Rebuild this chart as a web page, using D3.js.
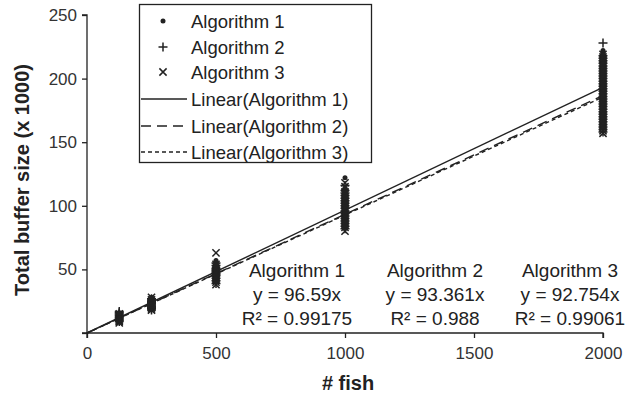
<!DOCTYPE html>
<html><head><meta charset="utf-8">
<script src="https://cdn.jsdelivr.net/npm/d3@7"></script>
<style>
html,body{margin:0;padding:0;background:#fff;}
svg{display:block;font-family:"Liberation Sans",Arial,sans-serif;}
</style></head>
<body>
<svg id="chart" width="637" height="395"></svg>
<script>
// ---- data ----
const fishCounts = [125, 250, 500, 1000, 2000];
const xTicks = [0, 500, 1000, 1500, 2000];
const yTicks = [0, 50, 100, 150, 200, 250];
const yTickLabels = ["", "50", "100", "150", "200", "250"];
const seriesNames = ["Algorithm 1", "Algorithm 2", "Algorithm 3"];
// observed buffer sizes (x1000) per fish count
const alg1Values = [
  [9,9.5,10,10.5,11,11.5,12,12.5,13,13.5,14,14.5,15,15.5,16],
  [19,19.5,20,20.5,21,21.5,22,22.5,23,23.5,24,24.5,25,25.5,26,26.5,27,27.5,28],
  [40,41,42,43,44,45,46,47,48,49,50,51,52,53,54,55,57],
  [84,85,86,87,88,89,90,91,92,93,94,95,96,97,98,99,100,101,102,103,104,105,106,107,108,109,110,111,112,114,122],
  [161,162,163,164,165,166,167,168,169,170,171,172,173,174,175,176,177,178,179,180,181,182,183,184,185,186,187,188,189,190,
   191,192,193,194,195,196,197,198,199,200,201,202,203,204,205,206,207,208,209,210,211,212,213,214,215,216,217,218,219,220,222]
];
const alg2Values = [
  [9,10,11,12,13,14,15,16,17],
  [18,19,20,21,22,23,24,25,26,27],
  [39,41,43,45,46,47,48,49,50,51,53,55],
  [82,84,86,88,90,92,94,96,98,100,102,104,106,108,110,112,116],
  [158,160,162,164,166,168,170,172,174,176,178,180,182,184,186,188,190,192,194,196,198,200,202,204,206,208,210,212,214,216,218,228]
];
const alg3Values = [
  [8,9,10,11,12,13,14,15],
  [18,19,20,21,22,23,24,25,26,28],
  [38,40,42,44,45,46,47,48,49,50,52,54,63],
  [80,83,85,87,89,91,93,95,97,99,101,103,105,107,109,111,115,118],
  [157,159,161,163,165,167,169,171,173,175,177,179,181,183,185,187,189,191,193,195,197,199,201,203,205,207,209,211,213,215,217,219]
];
const slopes = [96.59, 93.361, 92.754];
const r2Values = ["0.99175", "0.988", "0.99061"];
const legendLabels = ["Algorithm 1","Algorithm 2","Algorithm 3","Linear(Algorithm 1)","Linear(Algorithm 2)","Linear(Algorithm 3)"];

// ---- drawing ----
const svg = d3.select("#chart");
const ink = "#222";
const x = d3.scaleLinear().domain([0, 2000]).range([87, 603]);
const y = d3.scaleLinear().domain([0, 250]).range([333, 15]);

// axes
const xAxis = d3.axisBottom(x).tickValues(xTicks).tickSize(5).tickPadding(9).tickFormat(d3.format("d"));
const gx = svg.append("g").attr("transform", `translate(0,${y(0)})`).call(xAxis);
const yAxis = d3.axisLeft(y).tickValues(yTicks).tickSize(5).tickPadding(5).tickFormat((d,i)=>yTickLabels[i]);
const gy = svg.append("g").attr("transform", `translate(${x(0)},0)`).call(yAxis);
[gx, gy].forEach(g => {
  g.select(".domain").attr("stroke", ink).attr("stroke-width", 1.3);
  g.selectAll(".tick line").attr("stroke", ink).attr("stroke-width", 1.3);
  g.selectAll(".tick text").attr("fill", "#333").style("font-size", "17px").style("font-family", "'Liberation Sans', Arial, sans-serif");
});
gy.select(".domain").attr("d", `M-5,${y(250)}H0V${y(0)}H-5`);
gx.select(".domain").attr("d", `M${x(0)},5V0H${x(2000)}V5`);

// trend lines
const dashes = [null, "10,6", "4,3"];
const lineGen = d3.line().x(d => x(d[0])).y(d => y(d[1]));
slopes.forEach((s, i) => {
  svg.append("path")
    .attr("d", lineGen([[0, 0], [2000, s * 2000 / 1000]]))
    .attr("fill", "none").attr("stroke", ink).attr("stroke-width", 1.4)
    .attr("stroke-dasharray", dashes[i]);
});

// markers
function drawMarker(g, kind, cx, cy) {
  if (kind === 0) {
    g.append("circle").attr("cx", cx).attr("cy", cy).attr("r", 2.5).attr("fill", ink);
  } else if (kind === 1) {
    g.append("path").attr("d", `M${cx-4.5},${cy}H${cx+4.5}M${cx},${cy-4.5}V${cy+4.5}`)
      .attr("stroke", ink).attr("stroke-width", 1.5).attr("fill", "none");
  } else {
    g.append("path").attr("d", `M${cx-3.6},${cy-3.6}L${cx+3.6},${cy+3.6}M${cx-3.6},${cy+3.6}L${cx+3.6},${cy-3.6}`)
      .attr("stroke", ink).attr("stroke-width", 1.5).attr("fill", "none");
  }
}
const allSeries = [alg1Values, alg2Values, alg3Values];
const pts = svg.append("g");
[2, 1, 0].forEach(k => {
  allSeries[k].forEach((vals, j) => {
    vals.forEach(v => drawMarker(pts, k, x(fishCounts[j]), y(v)));
  });
});

// legend
const lg = svg.append("g");
lg.append("rect").attr("x", 139.5).attr("y", 4.5).attr("width", 232).attr("height", 158)
  .attr("fill", "#fff").attr("stroke", ink).attr("stroke-width", 1.3);
const rowY = [21, 47, 72, 99, 126, 152];
legendLabels.forEach((lab, i) => {
  const ry = rowY[i];
  if (i < 3) drawMarker(lg, i, 163, ry);
  else lg.append("line").attr("x1", 141).attr("x2", 187).attr("y1", ry).attr("y2", ry)
      .attr("stroke", ink).attr("stroke-width", 1.4).attr("stroke-dasharray", dashes[i - 3]);
  lg.append("text").attr("x", 191).attr("y", ry).attr("dy", "0.36em")
    .attr("fill", "#222").style("font-size", "18.5px").text(lab);
});

// equation annotations
const annX = [297, 435, 570];
seriesNames.forEach((n, i) => {
  const t = svg.append("text").attr("text-anchor", "middle").attr("fill", "#222").style("font-size", "19px");
  [n, `y = ${slopes[i]}x`, `R² = ${r2Values[i]}`].forEach((line, k) => {
    t.append("tspan").attr("x", annX[i]).attr("y", 277 + k * 24).text(line);
  });
});

// axis titles
svg.append("text").attr("x", 348).attr("y", 390).attr("text-anchor", "middle")
  .style("font-weight", "bold").style("font-size", "20px").attr("fill", "#222").text("# fish");
svg.append("text").attr("transform", "translate(29,180) rotate(-90)").attr("text-anchor", "middle")
  .style("font-weight", "bold").style("font-size", "20px").attr("fill", "#222").text("Total buffer size  (x 1000)");
</script>
</body></html>
